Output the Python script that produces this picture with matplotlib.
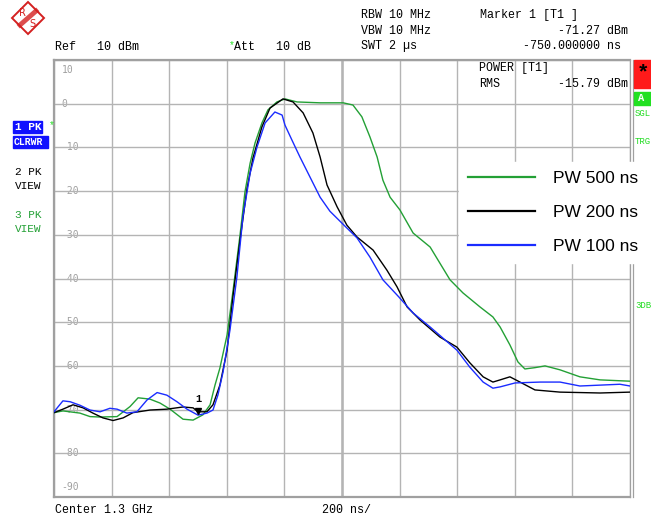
import matplotlib
matplotlib.use("Agg")
import matplotlib.pyplot as plt
from matplotlib.lines import Line2D
from matplotlib.patches import Polygon, Rectangle

# sweep time axis (ns) and trace levels (dBm)
t_500 = [-1250, -1219, -1160, -1125, -1090, -1031, -986, -958, -917, -882,
         -847, -802, -767, -733, -708, -691, -674, -649, -628, -604,
         -587, -569, -552, -528, -507, -476, -448, -406, -326, -246,
         -212, -181, -153, -128, -108, -83, -49, -3, 56, 90,
         125, 170, 229, 274, 299, 333, 361, 385, 420, 455,
         507, 576, 646, 750]
pw_500 = [-70.7, -70.3, -70.8, -71.6, -71.7, -71.6, -69.3, -67.3, -67.6, -68.5,
          -69.9, -72.2, -72.4, -71.2, -68.9, -64.4, -60.5, -52.9, -42.6, -30.0,
          -20.2, -13.6, -9.0, -4.4, -1.4, 0.4, 1.1, 0.4, 0.2, 0.2,
          -0.3, -3.0, -7.6, -12.2, -17.5, -21.4, -24.3, -29.6, -32.8, -36.5,
          -40.3, -43.3, -46.5, -48.8, -51.1, -55.2, -59.1, -60.7, -60.4, -60.0,
          -60.9, -62.5, -63.2, -63.5]

t_200 = [-1250, -1219, -1184, -1149, -1115, -1080, -1045, -1010, -976, -917,
         -858, -802, -767, -750, -719, -698, -674, -649, -628, -604,
         -580, -559, -528, -500, -455, -420, -385, -351, -326, -302,
         -267, -233, -198, -142, -94, -59, -24, 21, 90, 149,
         194, 240, 274, 299, 333, 368, 420, 507, 646, 750]
pw_200 = [-70.7, -69.9, -68.9, -69.6, -70.8, -71.9, -72.5, -71.9, -70.7, -70.1,
          -69.9, -69.4, -69.6, -70.5, -70.5, -68.9, -64.4, -56.4, -43.8, -31.2,
          -19.5, -12.4, -5.3, -1.0, 1.1, 0.4, -2.1, -6.7, -12.2, -18.6,
          -23.6, -27.8, -30.5, -33.5, -38.1, -41.9, -46.5, -49.5, -53.4, -55.7,
          -59.3, -62.5, -63.7, -63.2, -62.5, -63.7, -65.5, -66.0, -66.2, -66.0]

t_100 = [-1250, -1219, -1194, -1160, -1125, -1090, -1056, -1031, -997, -962,
         -927, -892, -858, -823, -788, -750, -719, -698, -681, -663,
         -639, -615, -594, -569, -545, -517, -483, -458, -448, -424,
         -396, -361, -326, -292, -240, -198, -153, -108, -53, -3,
         56, 149, 194, 240, 274, 299, 351, 438, 507, 576,
         646, 715, 750]
pw_100 = [-70.5, -68.0, -68.2, -69.0, -70.1, -70.5, -69.7, -69.9, -70.8, -70.5,
          -67.8, -66.1, -66.7, -68.2, -69.9, -71.27, -70.8, -70.1, -66.7, -61.4,
          -51.8, -39.7, -25.9, -15.9, -9.9, -4.4, -1.9, -2.6, -4.9, -8.3,
          -12.2, -16.8, -21.4, -24.6, -28.0, -30.7, -35.1, -40.3, -44.2, -47.9,
          -51.1, -56.4, -60.3, -63.7, -65.1, -64.8, -63.9, -63.7, -63.7, -64.6,
          -64.4, -64.2, -64.6]

marker_t = -750
marker_level = -71.27
level_labels = ["10", "0", "-10", "-20", "-30", "-40", "-50", "-60", "-70", "-80", "-90"]
level_values = [10, 0, -10, -20, -30, -40, -50, -60, -70, -80, -90]

W, H = 651, 517
fig = plt.figure(figsize=(W / 100, H / 100), dpi=100)
ax = fig.add_axes([54 / W, 20 / H, 576 / W, 437 / H])

GREEN = "#23a035"
BLUE = "#1a2cff"
GRID = "#b4b4b4"
mono = "Liberation Mono"

ax.set_xlim(-1250, 750)
ax.set_ylim(-90, 10)
ax.set_xticks(range(-1250, 751, 200))
ax.set_yticks(range(-90, 11, 10))
ax.tick_params(length=0, labelleft=False, labelbottom=False)
ax.grid(True, color=GRID, lw=1.0, zorder=0)
ax.axvline(-250, color=GRID, lw=1.8, zorder=0.5)
for s in ax.spines.values():
    s.set_color("#a0a0a0")
ax.spines["left"].set_linewidth(1.6)
ax.spines["bottom"].set_linewidth(1.6)
ax.spines["top"].set_linewidth(1.6)
ax.spines["right"].set_linewidth(0.9)
ax.add_line(Line2D([1.0045, 1.0045], [0, 1], transform=ax.transAxes,
                   color="#a0a0a0", lw=0.9, clip_on=False, zorder=2.5))

# level labels sitting on the grid lines
for lab, v in zip(level_labels, level_values):
    y = v
    box = dict(facecolor="white", edgecolor="none", pad=1.5)
    if v == 10:
        y = 7.7
        box = None
    elif v == -90:
        y = -87.8
    ax.text(-1224, y, lab, fontsize=7, family="DejaVu Sans Mono", color="#a0a0a0",
            va="center", ha="left", bbox=box, zorder=1)

ax.plot(t_500, pw_500, color=GREEN, lw=1.0, label="PW 500 ns", zorder=3)
ax.plot(t_200, pw_200, color="black", lw=1.0, label="PW 200 ns", zorder=3)
ax.plot(t_100, pw_100, color=BLUE, lw=1.0, label="PW 100 ns", zorder=3)

# marker 1 on trace 1
ax.plot([marker_t], [marker_level + 1.0], marker="v", color="black", ms=4.5, zorder=4)
ax.text(marker_t, marker_level + 2.6, "1", fontsize=7.5, family=mono,
        ha="center", va="bottom", fontweight="bold", zorder=4)

handles, labels = ax.get_legend_handles_labels()
leg = ax.legend(handles, labels,
                loc="upper left", bbox_to_anchor=(0.703, 0.766), borderaxespad=0,
                handlelength=3.9, handletextpad=1.0, labelspacing=1.08,
                frameon=True, fancybox=False, framealpha=1, facecolor="white",
                edgecolor="white", borderpad=0.5,
                prop={"family": "Liberation Sans", "size": 12.5})
for ln in leg.get_lines():
    ln.set_linewidth(1.6)
leg.set_zorder(6)

# readouts inside the grid
ax.text(0.738, 0.982, "POWER [T1]", transform=ax.transAxes, fontsize=8.4,
        family=mono, va="center", ha="left", zorder=5)
ax.text(0.738, 0.945, "RMS", transform=ax.transAxes, fontsize=8.4,
        family=mono, va="center", ha="left", zorder=5)
ax.text(0.997, 0.945, "-15.79 dBm", transform=ax.transAxes, fontsize=8.4,
        family=mono, va="center", ha="right", zorder=5)


def ftext(x, y, s, **kw):
    kw.setdefault("fontsize", 8.4)
    kw.setdefault("family", mono)
    kw.setdefault("va", "center")
    fig.text(x / W, 1 - y / H, s, **kw)


# header readouts
ftext(55, 47, "Ref   10 dBm")
ftext(229, 45, "*", color="#22dd22", fontsize=7)
ftext(234, 47, "Att   10 dB")
ftext(361, 15, "RBW 10 MHz")
ftext(361, 31, "VBW 10 MHz")
ftext(361, 46, "SWT 2 \u00b5s")
ftext(480, 15, "Marker 1 [T1 ]")
ftext(628, 31, "-71.27 dBm", ha="right")
ftext(621, 46, "-750.000000 ns", ha="right")
ftext(55, 510, "Center 1.3 GHz")
ftext(322, 510, "200 ns/")

# trace status on the left
fig.patches.append(Rectangle((13 / W, 1 - 133 / H), 29 / W, 12 / H,
                             transform=fig.transFigure, color="#1010ff"))
fig.patches.append(Rectangle((13 / W, 1 - 148 / H), 35 / W, 12 / H,
                             transform=fig.transFigure, color="#1010ff"))
ftext(15, 127, "1 PK", color="white", fontsize=8, fontweight="bold")
ftext(14, 142, "CLRWR", color="white", fontsize=7, fontweight="bold")
ftext(49, 125, "*", color="#22dd22", fontsize=7)
ftext(15, 172, "2 PK", fontsize=8)
ftext(15, 186, "VIEW", fontsize=8)
ftext(15, 215, "3 PK", color=GREEN, fontsize=8)
ftext(15, 229, "VIEW", color=GREEN, fontsize=8)

# status column on the right
fig.patches.append(Rectangle((634 / W, 1 - 88 / H), 17 / W, 28 / H,
                             transform=fig.transFigure, color="#ff1a1a"))
ftext(637, 73, "*", fontsize=15, fontweight="bold")
fig.patches.append(Rectangle((634 / W, 1 - 105 / H), 17 / W, 13 / H,
                             transform=fig.transFigure, color="#22e022"))
ftext(638, 98, "A", color="white", fontsize=7.5, fontweight="bold")
ftext(635, 113, "SGL", color="#22dd22", fontsize=6.5)
ftext(635, 142, "TRG", color="#22dd22", fontsize=6.5)
ftext(635, 305, "3DB", color="#22dd22", fontsize=6.5)

# R&S logo
cx, cy, r = 28, 18, 16
diamond = [((cx) / W, 1 - (cy - r) / H), ((cx + r) / W, 1 - cy / H),
           ((cx) / W, 1 - (cy + r) / H), ((cx - r) / W, 1 - cy / H)]
fig.patches.append(Polygon(diamond, closed=True, fill=False, ec="#d42020", lw=1.4,
                           transform=fig.transFigure))
fig.add_artist(Line2D([(cx + 8) / W, (cx - 8) / W], [1 - (cy - 7) / H, 1 - (cy + 7) / H],
                      color="#d42020", lw=3.5, alpha=0.8, transform=fig.transFigure))
ftext(22, 13, "R", color="#d42020", fontsize=7, family="DejaVu Sans", ha="center")
ftext(32, 24, "S", color="#d42020", fontsize=7, family="DejaVu Sans", ha="center")

fig.savefig("out.png", dpi=100)
